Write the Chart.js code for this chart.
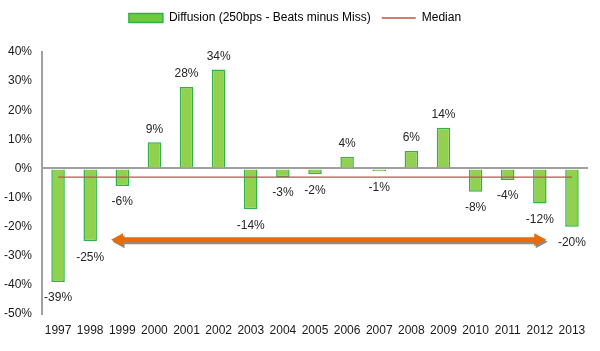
<!DOCTYPE html>
<html>
<head>
<meta charset="utf-8">
<script src="https://cdn.jsdelivr.net/npm/chart.js@4/dist/chart.umd.min.js"></script>
<style>
html,body{margin:0;padding:0;background:#fff;}
#wrap{width:600px;height:351px;}
</style>
</head>
<body>
<div id="wrap"><canvas id="c" width="600" height="351"></canvas></div>
<script>
const years = ['1997','1998','1999','2000','2001','2002','2003','2004','2005','2006','2007','2008','2009','2010','2011','2012','2013'];
const diffusion = [-39,-25,-6,9,28,34,-14,-3,-2,4,-1,6,14,-8,-4,-12,-20];
const medianValues = [-3,-3,-3,-3,-3,-3,-3,-3,-3,-3,-3,-3,-3,-3,-3,-3,-3];
const yTicks = [40,30,20,10,0,-10,-20,-30,-40,-50];
const arrowSpan = [1.65, 15.2];   // category index positions of arrow tips
const arrowLevel = -24.5;          // value level of arrow

const FONT = "'Liberation Sans Narrow','Arial Narrow','Liberation Sans',Arial,sans-serif";

const legendSpace = {
  id: 'legendSpace',
  beforeInit(chart) {
    const orig = chart.legend.fit;
    chart.legend.fit = function () {
      orig.bind(chart.legend)();
      this.height = 51;
    };
  }
};

const labelPlugin = {
  id: 'barLabels',
  afterDatasetsDraw(chart) {
    const ctx = chart.ctx;
    const meta = chart.getDatasetMeta(0);
    ctx.save();
    ctx.font = '12px ' + FONT;
    ctx.fillStyle = '#262626';
    ctx.textAlign = 'center';
    ctx.textBaseline = 'middle';
    meta.data.forEach((bar, i) => {
      const v = diffusion[i];
      const y = v >= 0 ? bar.y - 13 : bar.y + 16;
      ctx.fillText(v + '%', bar.x, y);
    });
    ctx.restore();
  }
};

const arrowPlugin = {
  id: 'arrow',
  afterDatasetsDraw(chart) {
    const ctx = chart.ctx;
    const xs = chart.scales.x, ys = chart.scales.y;
    const x1 = xs.getPixelForValue(arrowSpan[0]);
    const x2 = xs.getPixelForValue(arrowSpan[1]);
    const y = ys.getPixelForValue(arrowLevel);
    const t = 2.6, hl = 12, hh = 6.5;
    function path(dx, dy) {
      ctx.beginPath();
      ctx.moveTo(x1 + dx, y + dy);
      ctx.lineTo(x1 + hl + dx, y - hh + dy);
      ctx.lineTo(x1 + hl + dx, y - t + dy);
      ctx.lineTo(x2 - hl + dx, y - t + dy);
      ctx.lineTo(x2 - hl + dx, y - hh + dy);
      ctx.lineTo(x2 + dx, y + dy);
      ctx.lineTo(x2 - hl + dx, y + hh + dy);
      ctx.lineTo(x2 - hl + dx, y + t + dy);
      ctx.lineTo(x1 + hl + dx, y + t + dy);
      ctx.lineTo(x1 + hl + dx, y + hh + dy);
      ctx.closePath();
    }
    ctx.save();
    path(1.5, 2);
    ctx.fillStyle = '#8c8c8c';
    ctx.fill();
    path(0, 0);
    ctx.fillStyle = '#E46C0A';
    ctx.fill();
    ctx.restore();
  }
};

new Chart(document.getElementById('c'), {
  data: {
    labels: years,
    datasets: [
      {
        type: 'bar',
        label: 'Diffusion (250bps - Beats minus Miss)',
        data: diffusion,
        backgroundColor: '#92D050',
        borderColor: '#2DB34A',
        borderWidth: 1.5,
        barPercentage: 0.42,
        categoryPercentage: 1.0,
        order: 2
      },
      {
        type: 'line',
        label: 'Median',
        data: medianValues,
        borderColor: '#C0504D',
        backgroundColor: '#C0504D',
        borderWidth: 1.2,
        pointRadius: 0,
        fill: false,
        order: 1
      }
    ]
  },
  options: {
    responsive: false,
    animation: false,
    devicePixelRatio: 1,
    layout: { padding: { left: 2, right: 12, top: 1, bottom: 0 } },
    plugins: {
      tooltip: { enabled: false },
      legend: {
        position: 'top',
        labels: {
          font: { family: FONT, size: 12 },
          color: '#1a1a1a',
          usePointStyle: true,
          pointStyleWidth: 34,
          boxHeight: 9,
          padding: 11,
          generateLabels(chart) {
            return [
              { text: 'Diffusion (250bps - Beats minus Miss)', fillStyle: '#6CCB3C', strokeStyle: '#2DB34A', lineWidth: 1.5, pointStyle: 'rect', datasetIndex: 0 },
              { text: 'Median', fillStyle: '#C0504D', strokeStyle: '#C0504D', lineWidth: 1.5, pointStyle: 'line', datasetIndex: 1 }
            ];
          }
        }
      }
    },
    scales: {
      x: {
        afterFit(axis) { axis.height = 37; },
        grid: { display: false, drawTicks: false },
        border: { display: false },
        ticks: { font: { family: FONT, size: 12 }, color: '#1a1a1a', padding: 9, maxRotation: 0, autoSkip: false }
      },
      y: {
        min: -50, max: 40,
        afterFit(axis) { axis.width = 40; },
        afterBuildTicks(axis) { axis.ticks = yTicks.map(v => ({ value: v })); },
        grid: {
          drawTicks: false,
          color: c => (c.tick && c.tick.value === 0) ? '#A0A0A0' : 'rgba(0,0,0,0)',
          lineWidth: 2
        },
        border: { display: true, color: '#A0A0A0', width: 2 },
        ticks: { font: { family: FONT, size: 12 }, color: '#1a1a1a', padding: 10, callback: v => v + '%' }
      }
    }
  },
  plugins: [legendSpace, labelPlugin, arrowPlugin]
});
</script>
</body>
</html>
